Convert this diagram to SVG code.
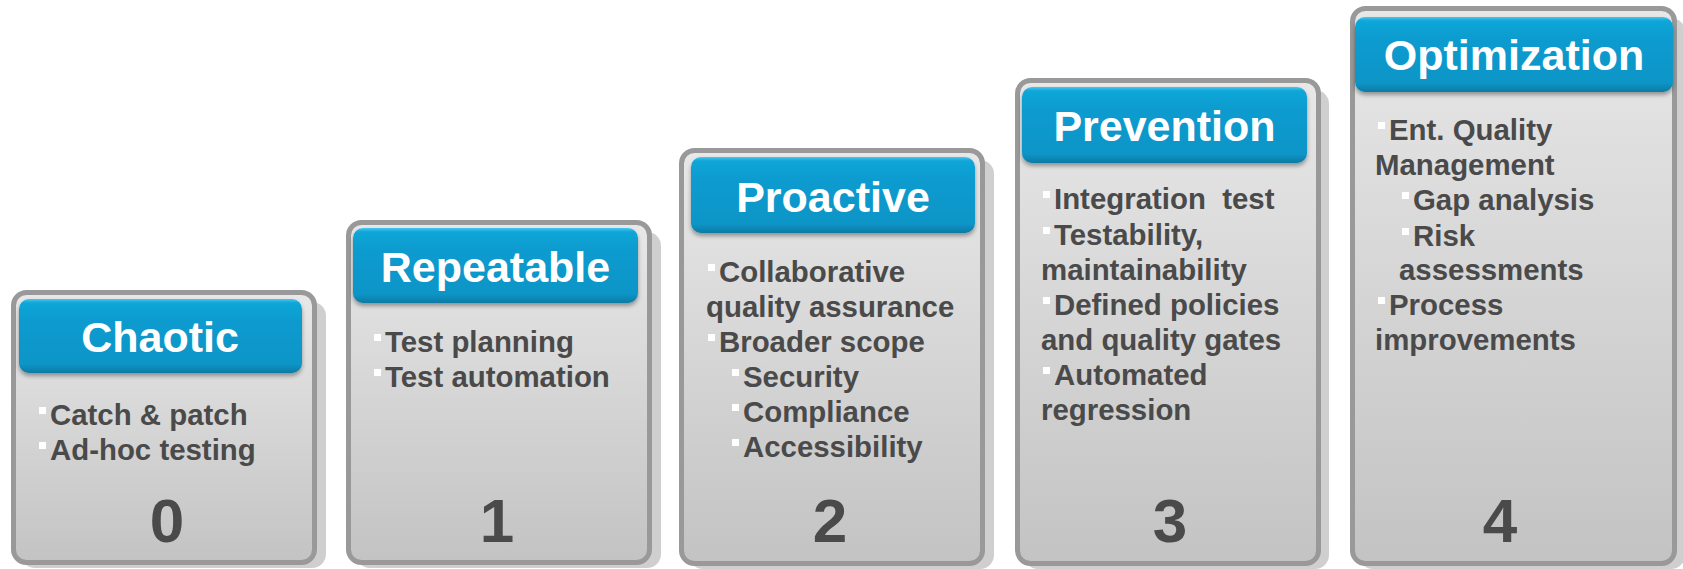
<svg xmlns="http://www.w3.org/2000/svg" width="1683" height="569" viewBox="0 0 1683 569">
<style>
.shadow{fill:#cfcfcf}
.body{fill:url(#bodyGrad);stroke:#999999;stroke-width:5}
.head{fill:url(#headGrad);filter:url(#hs)}
.title{font-family:"Liberation Sans",Arial,sans-serif;font-weight:bold;font-size:43px;fill:#ffffff;text-anchor:middle}
.txt{font-family:"Liberation Sans",Arial,sans-serif;font-weight:bold;font-size:29.4px;fill:#4a4a4a;white-space:pre}
.num{font-family:"Liberation Sans",Arial,sans-serif;font-weight:bold;font-size:62px;fill:#4a4a4a;text-anchor:middle}
.bul{fill:#ffffff}
</style>
<defs>
<linearGradient id="bodyGrad" x1="0" y1="0" x2="0" y2="1">
<stop offset="0" stop-color="#e8e8e8"/>
<stop offset="1" stop-color="#c3c3c3"/>
</linearGradient>
<linearGradient id="headGrad" x1="0" y1="0" x2="0" y2="1">
<stop offset="0" stop-color="#46c8f0"/>
<stop offset="0.05" stop-color="#12a6d8"/>
<stop offset="0.3" stop-color="#0a9bcf"/>
<stop offset="0.88" stop-color="#0995c7"/>
<stop offset="1" stop-color="#077aa3"/>
</linearGradient>
<filter id="hs" x="-5%" y="-10%" width="110%" height="130%">
<feDropShadow dx="0" dy="3" stdDeviation="2" flood-color="#000" flood-opacity="0.35"/>
</filter>
</defs>

<g id="level0">
<rect class="shadow" x="21" y="302" width="305" height="266" rx="14"/>
<rect class="body" x="13.5" y="292.5" width="301" height="270" rx="13"/>
<rect class="head" x="19" y="299" width="283" height="74" rx="10"/>
<text class="title" x="160" y="352">Chaotic</text>
<rect class="bul" x="39" y="407" width="7" height="7"/>
<text class="txt" x="50" y="425">Catch &amp; patch</text>
<rect class="bul" x="39" y="442" width="7" height="7"/>
<text class="txt" x="50" y="460">Ad-hoc testing</text>
<text class="num" x="167" y="542">0</text>
</g>

<g id="level1">
<rect class="shadow" x="356" y="232" width="305" height="336" rx="14"/>
<rect class="body" x="348.5" y="222.5" width="301" height="340" rx="13"/>
<rect class="head" x="353" y="228" width="285" height="75" rx="10"/>
<text class="title" x="495.5" y="282">Repeatable</text>
<rect class="bul" x="374" y="334" width="7" height="7"/>
<text class="txt" x="385" y="352">Test planning</text>
<rect class="bul" x="374" y="369" width="7" height="7"/>
<text class="txt" x="385" y="387">Test automation</text>
<text class="num" x="497" y="542">1</text>
</g>

<g id="level2">
<rect class="shadow" x="689" y="160" width="305" height="409" rx="14"/>
<rect class="body" x="681.5" y="150.5" width="301" height="413" rx="13"/>
<rect class="head" x="691" y="157" width="284" height="76" rx="10"/>
<text class="title" x="833" y="212">Proactive</text>
<rect class="bul" x="708" y="264" width="7" height="7"/>
<text class="txt" x="719" y="282">Collaborative</text>
<text class="txt" x="706" y="317">quality assurance</text>
<rect class="bul" x="708" y="334" width="7" height="7"/>
<text class="txt" x="719" y="352">Broader scope</text>
<rect class="bul" x="732" y="369" width="7" height="7"/>
<text class="txt" x="743" y="387">Security</text>
<rect class="bul" x="732" y="404" width="7" height="7"/>
<text class="txt" x="743" y="422">Compliance</text>
<rect class="bul" x="732" y="439" width="7" height="7"/>
<text class="txt" x="743" y="457">Accessibility</text>
<text class="num" x="830" y="542">2</text>
</g>

<g id="level3">
<rect class="shadow" x="1024" y="90" width="305" height="479" rx="14"/>
<rect class="body" x="1017.5" y="80.5" width="301" height="483" rx="13"/>
<rect class="head" x="1022" y="87" width="285" height="76" rx="10"/>
<text class="title" x="1164.5" y="141">Prevention</text>
<rect class="bul" x="1043" y="191" width="7" height="7"/>
<text class="txt" x="1054" y="209">Integration  test</text>
<rect class="bul" x="1043" y="227" width="7" height="7"/>
<text class="txt" x="1054" y="245">Testability,</text>
<text class="txt" x="1041" y="280">maintainability</text>
<rect class="bul" x="1043" y="297" width="7" height="7"/>
<text class="txt" x="1054" y="315">Defined policies</text>
<text class="txt" x="1041" y="350">and quality gates</text>
<rect class="bul" x="1043" y="367" width="7" height="7"/>
<text class="txt" x="1054" y="385">Automated</text>
<text class="txt" x="1041" y="420">regression</text>
<text class="num" x="1170" y="542">3</text>
</g>

<g id="level4">
<rect class="shadow" x="1359" y="18" width="326" height="551" rx="14"/>
<rect class="body" x="1352.5" y="8.5" width="322" height="555" rx="13"/>
<rect class="head" x="1355" y="17" width="318" height="75" rx="10"/>
<text class="title" x="1514" y="70">Optimization</text>
<rect class="bul" x="1378" y="122" width="7" height="7"/>
<text class="txt" x="1389" y="140">Ent. Quality</text>
<text class="txt" x="1375" y="175">Management</text>
<rect class="bul" x="1402" y="192" width="7" height="7"/>
<text class="txt" x="1413" y="210">Gap analysis</text>
<rect class="bul" x="1402" y="228" width="7" height="7"/>
<text class="txt" x="1413" y="246">Risk</text>
<text class="txt" x="1399" y="280">assessments</text>
<rect class="bul" x="1378" y="297" width="7" height="7"/>
<text class="txt" x="1389" y="315">Process</text>
<text class="txt" x="1375" y="350">improvements</text>
<text class="num" x="1500" y="542">4</text>
</g>

<g id="connectors"></g>
</svg>
